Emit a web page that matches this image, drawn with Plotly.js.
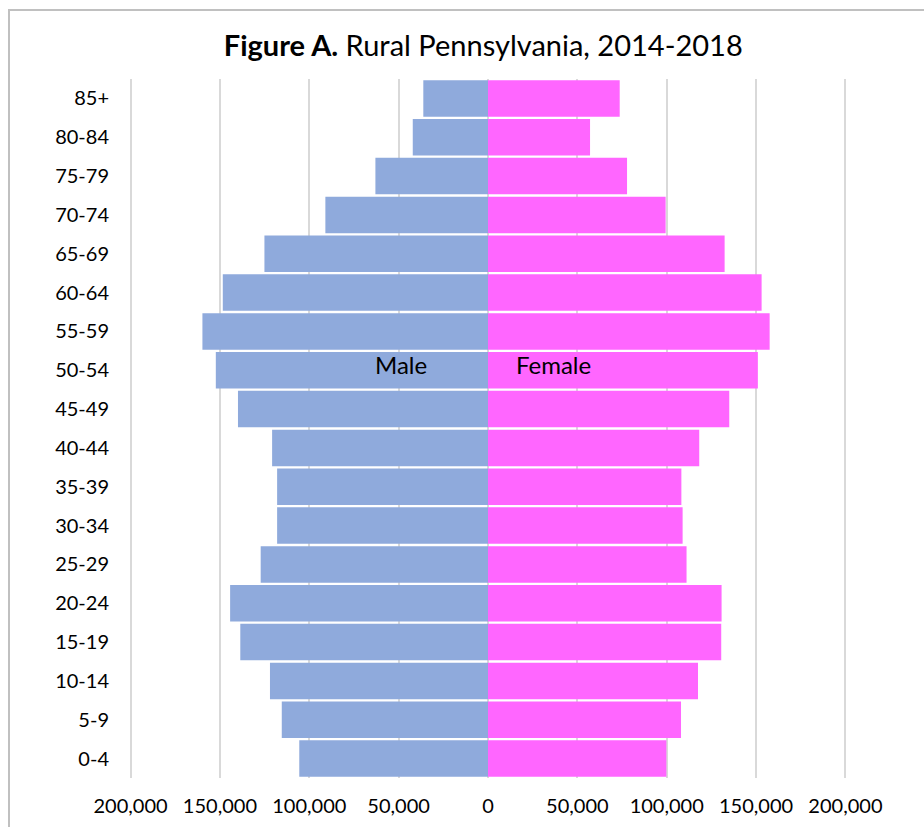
<!DOCTYPE html>
<html>
<head>
<meta charset="utf-8">
<script src="https://cdn.plot.ly/plotly-3.0.1.min.js"></script>
<style>
  html, body { margin: 0; padding: 0; background: #ffffff; }
  #chart { width: 924px; height: 827px; }
  #frame {
    position: absolute; left: 8px; top: 9px; width: 1000px; height: 1000px;
    border-left: 2px solid #c0c0c0; border-top: 2px solid #c0c0c0;
    pointer-events: none;
  }
</style>
</head>
<body>
<div id="chart"></div>
<div id="frame"></div>
<script>
// Age groups, youngest first (drawn bottom to top)
const ageGroups = ["0-4", "5-9", "10-14", "15-19", "20-24", "25-29", "30-34", "35-39",
  "40-44", "45-49", "50-54", "55-59", "60-64", "65-69", "70-74", "75-79", "80-84", "85+"];

// Rural Pennsylvania population by age group, 2014-2018
const malePop = [105600, 115400, 122000, 138600, 144300, 127200, 118000, 118000,
  120800, 139900, 152300, 159800, 148400, 125100, 91000, 63000, 42100, 36200];
const femalePop = [99800, 108000, 117500, 130500, 130700, 111100, 108900, 108200,
  118200, 135000, 151000, 157600, 153100, 132400, 99400, 77800, 57100, 73700];

const tickValues = [-200000, -150000, -100000, -50000, 0, 50000, 100000, 150000, 200000];
const tickLabels = ["200,000", "150,000", "100,000", "50,000", "0", "50,000", "100,000", "150,000", "200,000"];

const font = "Lato, 'Open Sans', sans-serif";

const traces = [
  {
    type: "bar", orientation: "h", name: "Male",
    y: ageGroups, x: malePop.map(v => -v),
    marker: { color: "#8faadc", line: { width: 0 } },
    hoverinfo: "skip"
  },
  {
    type: "bar", orientation: "h", name: "Female",
    y: ageGroups, x: femalePop,
    marker: { color: "#ff66ff", line: { width: 0 } },
    hoverinfo: "skip"
  }
];

const layout = {
  width: 924, height: 827,
  margin: { l: 127, r: 75, t: 79, b: 49 },
  paper_bgcolor: "rgba(0,0,0,0)",
  plot_bgcolor: "#ffffff",
  barmode: "relative",
  bargap: 0.06,
  showlegend: false,
  font: { family: font, color: "#000000" },
  title: {
    text: "<b>Figure A.</b> Rural Pennsylvania, 2014-2018",
    font: { family: font, size: 29, color: "#000000" },
    x: 0.523, xref: "container", xanchor: "center",
    y: 1 - 46 / 827, yref: "container", yanchor: "middle"
  },
  xaxis: {
    // padded so the outer gridlines at ±200,000 sit inside the plot area
    range: [-202000, 202000],
    tickvals: tickValues, ticktext: tickLabels,
    showgrid: true, gridcolor: "#d9d9d9", gridwidth: 2,
    zeroline: false, showline: false, ticks: "",
    ticklabelstandoff: 14,
    tickfont: { family: font, size: 20, color: "#000000" },
    fixedrange: true
  },
  yaxis: {
    type: "category",
    showgrid: false, zeroline: false, showline: false, ticks: "",
    ticklabelstandoff: 17,
    tickfont: { family: font, size: 20, color: "#000000" },
    fixedrange: true
  },
  annotations: [
    { x: -48700, y: "50-54", xref: "x", yref: "y", text: "Male", showarrow: false,
      yshift: 6, font: { family: font, size: 24, color: "#000000" } },
    { x: 36400, y: "50-54", xref: "x", yref: "y", text: "Female", showarrow: false,
      yshift: 6, font: { family: font, size: 24, color: "#000000" } }
  ]
};

Plotly.newPlot("chart", traces, layout, { displayModeBar: false, staticPlot: true });
</script>
</body>
</html>
